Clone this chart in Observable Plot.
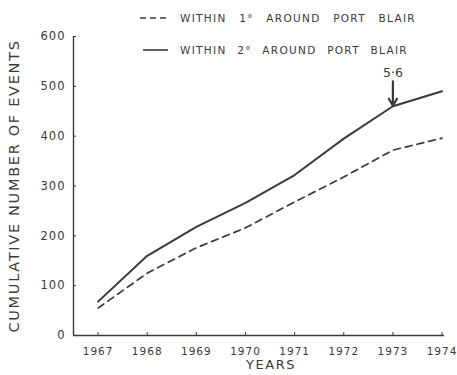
<!DOCTYPE html>
<html><head><meta charset="utf-8">
<script src="https://cdn.jsdelivr.net/npm/d3@7"></script>
<script src="https://cdn.jsdelivr.net/npm/@observablehq/plot@0.6"></script>
<style>
html,body{margin:0;padding:0;background:#fff;}
#wrap{position:relative;width:457px;height:375px;font-family:"DejaVu Sans",sans-serif;color:#3a3a3a;}
.leg{position:absolute;left:140px;font-size:10.5px;letter-spacing:1.3px;word-spacing:7px;white-space:nowrap;display:flex;align-items:center;}
.leg svg{margin-right:12px;}
</style></head>
<body><div id="wrap">
<div class="leg" style="top:12px;word-spacing:8px"><svg width="28" height="4"><line x1="0" y1="2" x2="28" y2="2" stroke="#3a3a3a" stroke-width="1.6" stroke-dasharray="6,4"/></svg>WITHIN 1° AROUND PORT BLAIR</div>
<div class="leg" style="top:44px;left:143px;word-spacing:6px"><svg width="25" height="4"><line x1="0" y1="2" x2="25" y2="2" stroke="#3a3a3a" stroke-width="1.6"/></svg>WITHIN 2° AROUND PORT BLAIR</div>
</div>
<script>
const years = [1967, 1968, 1969, 1970, 1971, 1972, 1973, 1974];
const within1 = [55, 125, 176, 216, 268, 318, 372, 396];
const within2 = [68, 160, 218, 266, 322, 395, 460, 490];
const yTicks = [0, 100, 200, 300, 400, 500, 600];
const annotation = [{year: 1973, label: "5·6", labelAt: 526, from: 510, to: 461}];

const ink = "#3a3a3a";
const d1 = years.map((y, i) => ({year: y, v: within1[i]}));
const d2 = years.map((y, i) => ({year: y, v: within2[i]}));

const chart = Plot.plot({
  width: 457, height: 375,
  marginLeft: 73, marginRight: 13, marginTop: 36, marginBottom: 40,
  style: {fontFamily: "DejaVu Sans, sans-serif", color: ink, background: "transparent"},
  x: {domain: [1966.5, 1974.05]},
  y: {domain: [0, 600]},
  marks: [
    Plot.ruleX([1966.5], {y1: 0, y2: 600, stroke: ink, strokeWidth: 1.4}),
    Plot.ruleY([0], {x1: 1966.5, x2: 1974.05, stroke: ink, strokeWidth: 1.4}),
    Plot.axisY({ticks: yTicks, tickSize: -3, tickPadding: 11, fontSize: 11.5, label: null, stroke: ink, fill: ink}),
    Plot.axisX({ticks: years, tickFormat: d => String(d), tickSize: -3, tickPadding: 15, fontSize: 10.5, label: null, stroke: ink, fill: ink}),
    Plot.text(["CUMULATIVE NUMBER OF EVENTS"], {frameAnchor: "left", textAnchor: "middle", dx: -59, dy: 0, rotate: -90, fontSize: 14.5, fill: ink}),
    Plot.text(["YEARS"], {frameAnchor: "bottom", dy: 33, dx: 12, fontSize: 13, fill: ink}),
    Plot.line(d1, {x: "year", y: "v", stroke: ink, strokeWidth: 1.7, strokeDasharray: "7,5"}),
    Plot.line(d2, {x: "year", y: "v", stroke: ink, strokeWidth: 2}),
    Plot.arrow(annotation, {x1: "year", x2: "year", y1: "from", y2: "to", stroke: ink, strokeWidth: 2.2, headLength: 8}),
    Plot.text(annotation, {x: "year", y: "labelAt", text: "label", fontSize: 12.5, fill: ink})
  ]
});
document.getElementById("wrap").prepend(chart);
chart.style.position = "absolute"; chart.style.left = "0"; chart.style.top = "0";
chart.querySelectorAll('text').forEach(t => {
  if (/^(19\d\d|\d00|0)$/.test(t.textContent)) t.style.letterSpacing = "1px";
  if (t.textContent === "YEARS") t.style.letterSpacing = "1.5px";
  if (t.textContent === "CUMULATIVE NUMBER OF EVENTS") t.style.letterSpacing = "1.7px";
});
</script>
</body></html>
